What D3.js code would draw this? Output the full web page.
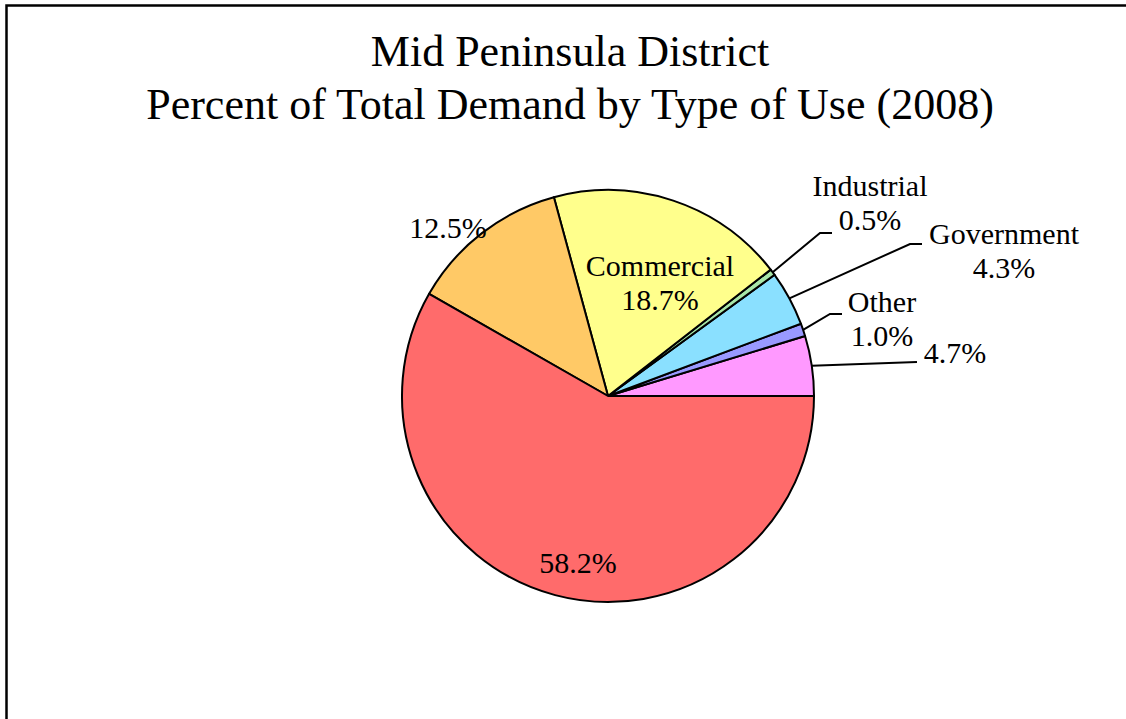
<!DOCTYPE html>
<html>
<head>
<meta charset="utf-8">
<script src="https://cdn.jsdelivr.net/npm/d3@7"></script>
<style>
  html, body { margin: 0; padding: 0; background: #fff; }
  svg { display: block; }
  text { font-family: "Liberation Serif", "DejaVu Serif", serif; fill: #000; }
</style>
</head>
<body>
<svg id="chart" width="1126" height="719"></svg>
<script>
// slices in drawing order, counter-clockwise from 3 o'clock
const categories = ["Irrigation", "Other", "Government", "Industrial", "Commercial", "Multi-Family Residential", "Single-Family Residential"];
const values = [4.7, 1.0, 4.3, 0.5, 18.7, 12.5, 58.2];
const showName = [false, true, true, true, true, false, false];
const colors = ["#ff99ff", "#9999ff", "#8ae0ff", "#a8e6a8", "#ffff8c", "#ffc966", "#ff6b6b"];
const titleLines = ["Mid Peninsula District", "Percent of Total Demand by Type of Use (2008)"];

const width = 1126, height = 719;
const cx = 608, cy = 396, radius = 206;

// label layout: inside => text spot only; outside => leader elbow + text spot
const labelLayout = [
  { mode: "out", elbow: [917, 362], text: [955, 356], leg: 0 },
  { mode: "out", elbow: [830, 314], text: [882, 305], leg: 12 },
  { mode: "out", elbow: [910, 244], text: [1004, 237], leg: 12 },
  { mode: "out", elbow: [820, 233], text: [870, 189], leg: 12 },
  { mode: "in", text: [660, 269] },
  { mode: "in", text: [448, 231] },
  { mode: "in", text: [578, 566] }
];

const svg = d3.select("#chart");

// chart border (runs off the page on the right and bottom)
svg.append("rect")
  .attr("x", 6.5).attr("y", 5.5)
  .attr("width", 1200).attr("height", 800)
  .attr("fill", "none")
  .attr("stroke", "#000")
  .attr("stroke-width", 2.5);

const title = svg.append("text")
  .attr("text-anchor", "middle")
  .attr("font-size", 44);
titleLines.forEach((t, i) => {
  title.append("tspan")
    .attr("x", 570)
    .attr("y", 66 + i * 53)
    .text(t);
});

const data = categories.map((c, i) => ({ name: c, value: values[i], i }));

const pie = d3.pie()
  .sort(null)
  .value(d => d.value)
  .startAngle(Math.PI / 2)
  .endAngle(Math.PI / 2 - 2 * Math.PI);

const arc = d3.arc().innerRadius(0).outerRadius(radius);
const arcs = pie(data);

const g = svg.append("g").attr("transform", `translate(${cx},${cy})`);

g.selectAll("path")
  .data(arcs)
  .join("path")
    .attr("d", arc)
    .attr("fill", d => colors[d.data.i])
    .attr("stroke", "#000")
    .attr("stroke-width", 2)
    .attr("stroke-linejoin", "round");

const fmt = v => v.toFixed(1) + "%";

// leader lines
const edgePoint = d => {
  const a = (d.startAngle + d.endAngle) / 2;
  return [cx + radius * Math.sin(a), cy - radius * Math.cos(a)];
};

svg.append("g")
  .selectAll("polyline")
  .data(arcs.filter(d => labelLayout[d.data.i].mode === "out"))
  .join("polyline")
    .attr("fill", "none")
    .attr("stroke", "#000")
    .attr("stroke-width", 2)
    .attr("points", d => {
      const L = labelLayout[d.data.i];
      const p = edgePoint(d);
      return [p, L.elbow, [L.elbow[0] + L.leg, L.elbow[1]]].map(q => q.join(",")).join(" ");
    });

const labels = svg.append("g")
  .attr("font-size", 30)
  .attr("text-anchor", "middle");

arcs.forEach(d => {
  const L = labelLayout[d.data.i];
  const t = labels.append("text")
    .attr("x", L.text[0])
    .attr("y", L.text[1])
    .attr("dominant-baseline", "middle");
  if (showName[d.data.i]) {
    t.append("tspan").attr("x", L.text[0]).attr("dy", 0).text(d.data.name);
    t.append("tspan").attr("x", L.text[0]).attr("dy", 34).text(fmt(d.data.value));
  } else {
    t.text(fmt(d.data.value));
  }
});
</script>
</body>
</html>
